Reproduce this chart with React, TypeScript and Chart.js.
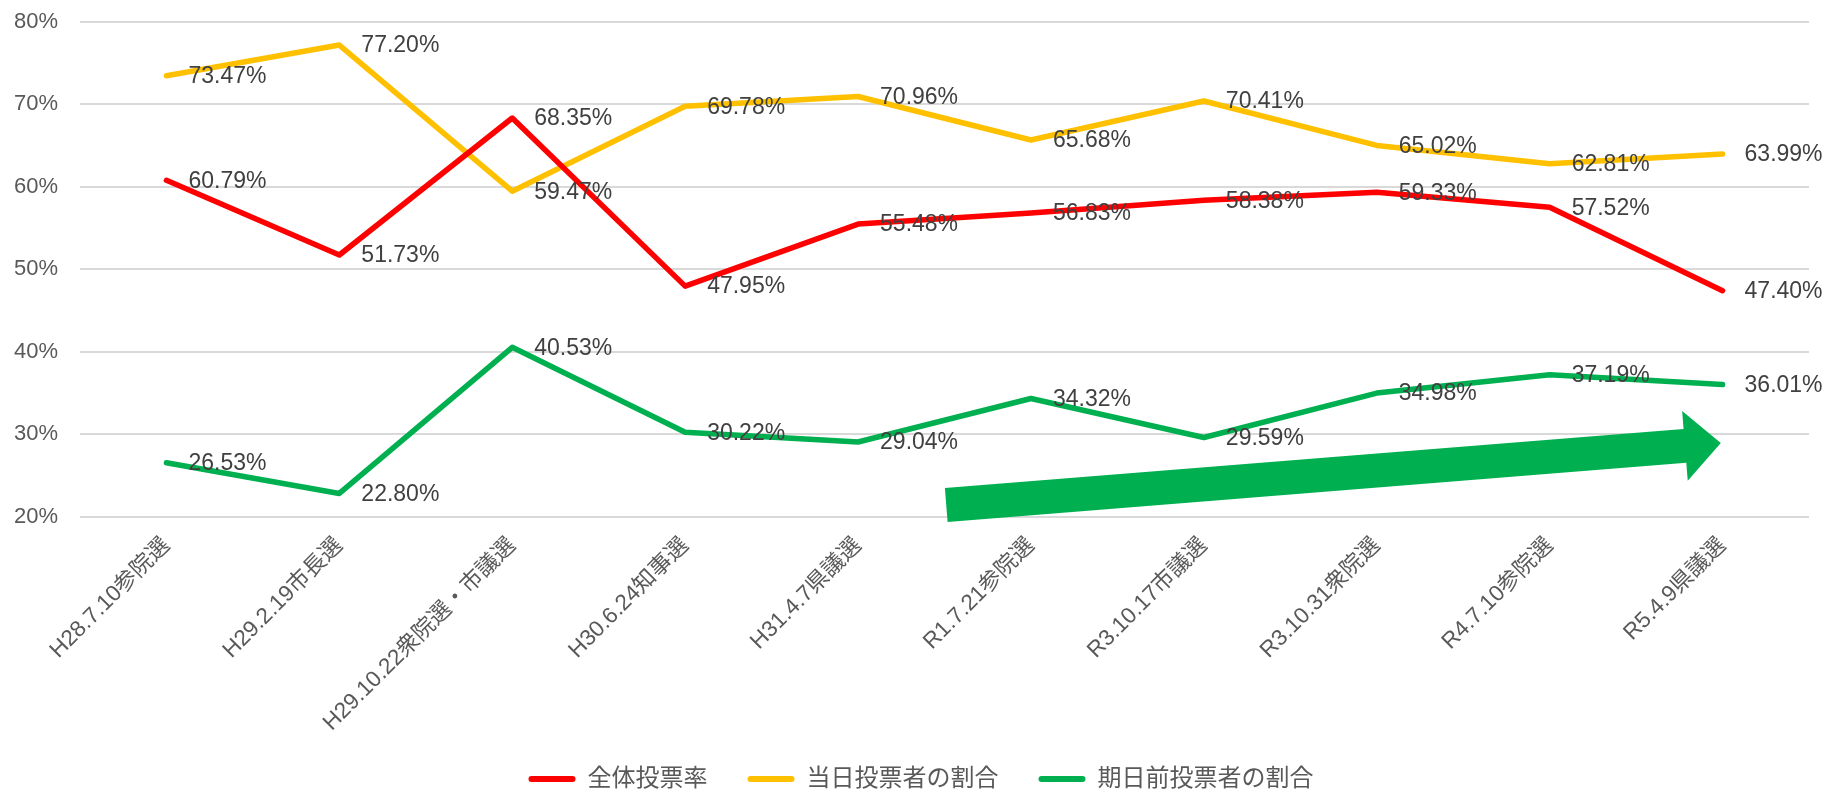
import React, { useEffect, useRef } from "react";
import { Chart, registerables } from "chart.js";

Chart.register(...registerables);

const categories = [
  "H28.7.10参院選",
  "H29.2.19市長選",
  "H29.10.22衆院選・市議選",
  "H30.6.24知事選",
  "H31.4.7県議選",
  "R1.7.21参院選",
  "R3.10.17市議選",
  "R3.10.31衆院選",
  "R4.7.10参院選",
  "R5.4.9県議選",
];

const totalTurnout = [60.79, 51.73, 68.35, 47.95, 55.48, 56.83, 58.38, 59.33, 57.52, 47.4];
const electionDayShare = [73.47, 77.2, 59.47, 69.78, 70.96, 65.68, 70.41, 65.02, 62.81, 63.99];
const earlyVoteShare = [26.53, 22.8, 40.53, 30.22, 29.04, 34.32, 29.59, 34.98, 37.19, 36.01];

const seriesNames = ["全体投票率", "当日投票者の割合", "期日前投票者の割合"];
const seriesColors = ["#FF0000", "#FFC000", "#00B050"];

const yTicks = [20, 30, 40, 50, 60, 70, 80];

// trend arrow: from (category index, value) to (category index, value)
const arrowFrom = [4.51, 21.4];
const arrowTo = [8.99, 28.92];

const FONT = "'Liberation Sans', Arial, 'Noto Sans CJK JP', sans-serif";

const labelPlugin = {
  id: "valueLabels",
  afterDatasetsDraw(chart: any) {
    const ctx = chart.ctx;
    ctx.save();
    ctx.font = `23px ${FONT}`;
    ctx.fillStyle = "#404040";
    ctx.textAlign = "left";
    ctx.textBaseline = "middle";
    chart.data.datasets.forEach((ds: any, di: number) => {
      const meta = chart.getDatasetMeta(di);
      meta.data.forEach((pt: any, i: number) => {
        ctx.fillText(ds.data[i].toFixed(2) + "%", pt.x + 22, pt.y + 1);
      });
    });
    ctx.restore();
  },
};

const arrowPlugin = {
  id: "trendArrow",
  afterDatasetsDraw(chart: any) {
    const xs = chart.scales.x;
    const ys = chart.scales.y;
    const x1 = xs.getPixelForValue(arrowFrom[0]);
    const y1 = ys.getPixelForValue(arrowFrom[1]);
    const x2 = xs.getPixelForValue(arrowTo[0]);
    const y2 = ys.getPixelForValue(arrowTo[1]);
    const dx = x2 - x1;
    const dy = y2 - y1;
    const len = Math.hypot(dx, dy);
    const ux = dx / len, uy = dy / len;
    const nx = -uy, ny = ux;
    const shaft = 17, head = 35, headLen = 36;
    const bx = x2 - ux * headLen, by = y2 - uy * headLen;
    const ctx = chart.ctx;
    ctx.save();
    ctx.fillStyle = "#00B050";
    ctx.beginPath();
    ctx.moveTo(x1 + nx * shaft, y1 + ny * shaft);
    ctx.lineTo(bx + nx * shaft, by + ny * shaft);
    ctx.lineTo(bx + nx * head, by + ny * head);
    ctx.lineTo(x2, y2);
    ctx.lineTo(bx - nx * head, by - ny * head);
    ctx.lineTo(bx - nx * shaft, by - ny * shaft);
    ctx.lineTo(x1 - nx * shaft, y1 - ny * shaft);
    ctx.closePath();
    ctx.fill();
    ctx.restore();
  },
};

export default function App() {
  const ref = useRef<HTMLCanvasElement | null>(null);
  useEffect(() => {
    if (!ref.current) return;
    const data = [totalTurnout, electionDayShare, earlyVoteShare];
    const noClip = () => undefined;
    const chart = new Chart(ref.current, {
      type: "line",
      data: {
        labels: categories,
        datasets: data.map((d, i) => ({
          label: seriesNames[i],
          data: d,
          borderColor: seriesColors[i],
          backgroundColor: seriesColors[i],
          borderWidth: 5.5,
          pointRadius: 0,
          pointHoverRadius: 0,
          tension: 0,
          borderCapStyle: "round",
          borderJoinStyle: "round",
          fill: false,
        })),
      },
      options: {
        animation: false,
        responsive: false,
        maintainAspectRatio: false,
        layout: { padding: { top: 22, right: 20, bottom: 0, left: 33 } },
        plugins: {
          tooltip: { enabled: false },
          legend: {
            position: "bottom",
            maxHeight: 64,
            labels: {
              font: { size: 24, family: FONT },
              color: "#595959",
              boxWidth: 47,
              boxHeight: 6,
              padding: 40,
              useBorderRadius: true,
              borderRadius: 3,
              generateLabels: (c: any) =>
                Chart.defaults.plugins.legend.labels
                  .generateLabels(c)
                  .map((it: any) => ({ ...it, lineWidth: 0, fillStyle: it.strokeStyle })),
            },
          },
        },
        scales: {
          x: {
            offset: true,
            grid: { display: false, offset: true },
            border: { display: false },
            ticks: {
              autoSkip: false,
              maxRotation: 45,
              minRotation: 45,
              padding: 8,
              color: "#595959",
              font: { size: 22.5, family: FONT },
            },
            afterFit: (s: any) => {
              s.height = 210.5;
              s._computeLabelArea = noClip;
            },
          },
          y: {
            min: 20,
            max: 80,
            afterBuildTicks: (s: any) => {
              s.ticks = yTicks.map((v) => ({ value: v }));
            },
            grid: { color: "#D9D9D9", lineWidth: 2, drawTicks: false },
            border: { display: false },
            ticks: {
              padding: 22,
              color: "#595959",
              font: { size: 22, family: FONT },
              callback: (v: any) => v + "%",
            },
            afterFit: (s: any) => {
              s.width = 47;
              s.paddingTop = 0;
              s.paddingBottom = 0;
              s._computeLabelArea = noClip;
            },
          },
        },
      },
      plugins: [arrowPlugin, labelPlugin],
    } as any);
    return () => chart.destroy();
  }, []);
  return (
    <div style={{ position: "absolute", left: 0, top: 0, width: 1829, height: 791, background: "#fff" }}>
      <canvas ref={ref} width={1829} height={791} style={{ width: 1829, height: 791, display: "block" }} />
    </div>
  );
}
